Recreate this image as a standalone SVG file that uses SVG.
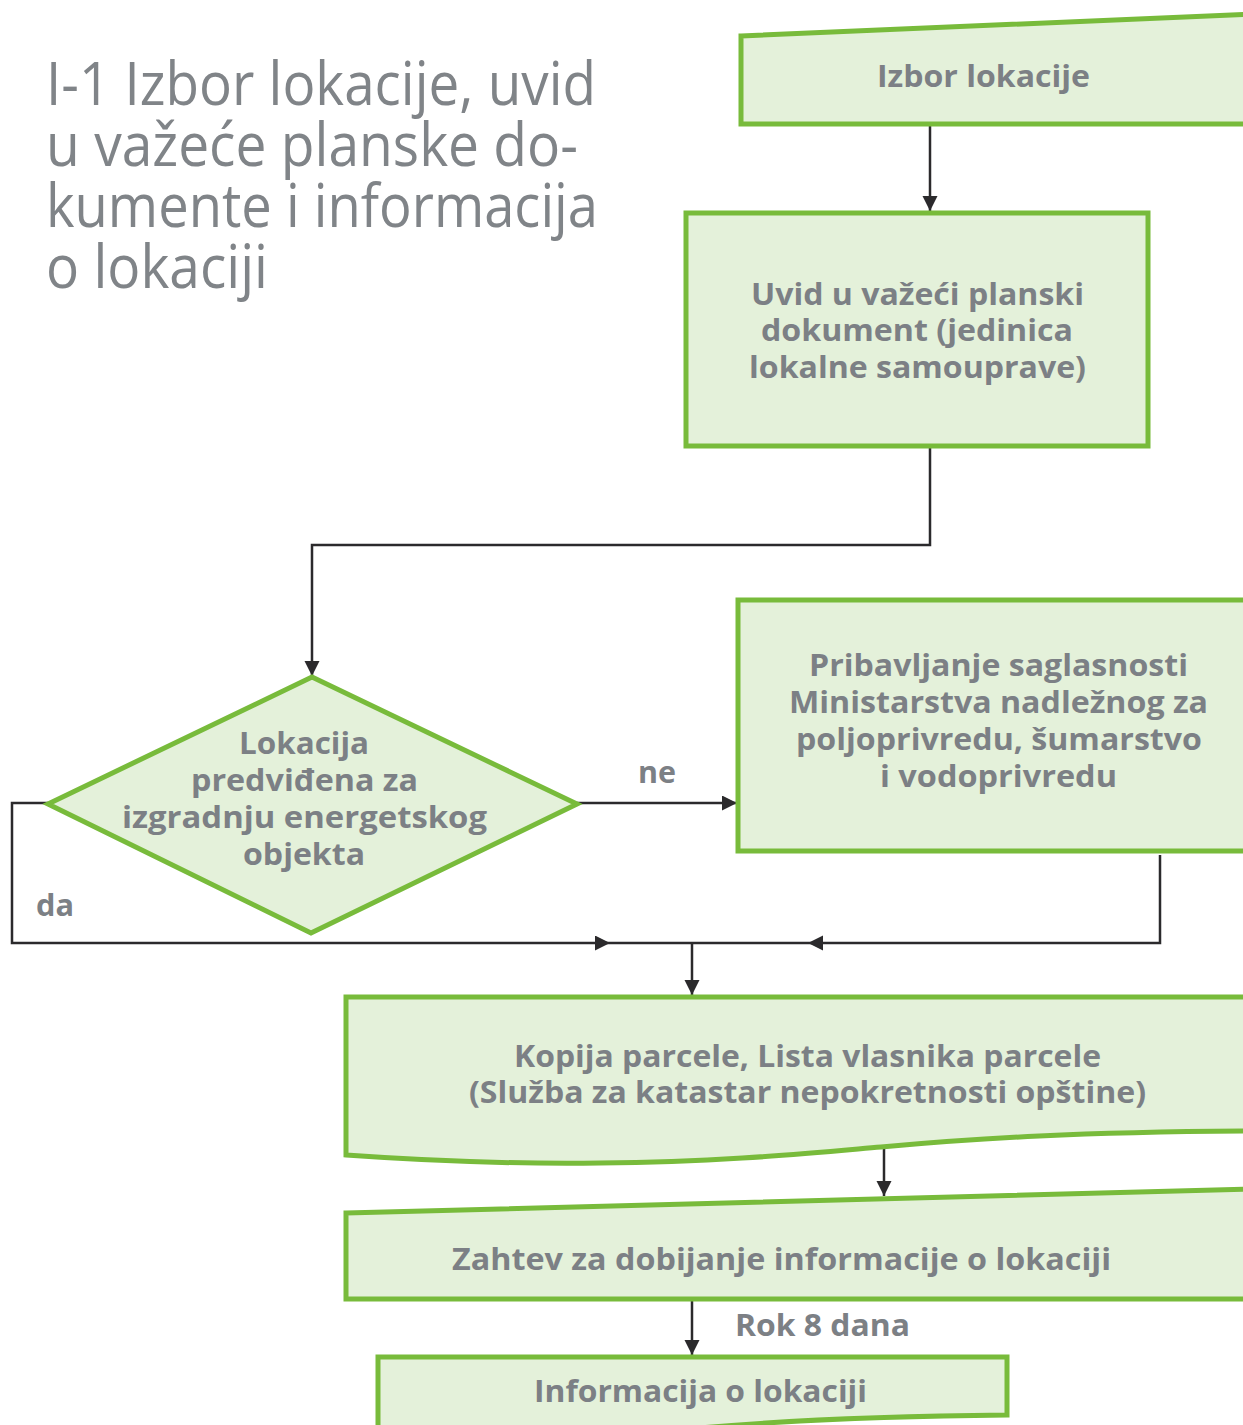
<svg xmlns="http://www.w3.org/2000/svg" width="1243" height="1425" viewBox="0 0 1243 1425">
  <style>
    .node { fill: #e4f1da; stroke: #78bb3b; stroke-width: 5; stroke-linejoin: miter; }
    .lbl { font-family: "Open Sans", "Noto Sans", sans-serif; font-weight: 700; font-size: 31px; fill: #7c8085; }
    .title { font-family: "Open Sans", "Noto Sans", sans-serif; font-weight: 400; font-size: 60px; fill: #808488; }
    .conn { fill: none; stroke: #2b2a2c; stroke-width: 2.5; }
  </style>
  <defs>
    <marker id="arrow" markerUnits="userSpaceOnUse" markerWidth="16" markerHeight="16" refX="15" refY="7.5" orient="auto">
      <path d="M0,0 L15,7.5 L0,15 Z" fill="#2b2a2c"/>
    </marker>
  </defs>

  <rect width="1243" height="1425" fill="#ffffff"/>

  <!-- heading -->
  <g id="title">
    <text class="title" x="46" y="105" textLength="550" lengthAdjust="spacingAndGlyphs">I-1 Izbor lokacije, uvid</text>
    <text class="title" x="46" y="166" textLength="532" lengthAdjust="spacingAndGlyphs">u važeće planske do-</text>
    <text class="title" x="46" y="227" textLength="552" lengthAdjust="spacingAndGlyphs">kumente i informacija</text>
    <text class="title" x="46" y="288" textLength="222" lengthAdjust="spacingAndGlyphs">o lokaciji</text>
  </g>

  <!-- connectors -->
  <g id="connectors">
    <path class="conn" d="M930,124 V211" marker-end="url(#arrow)"/>
    <path class="conn" d="M930,446 V545 H312 V676" marker-end="url(#arrow)"/>
    <path class="conn" d="M577,803 H737" marker-end="url(#arrow)"/>
    <path class="conn" d="M48,803 H12 V943 H610" marker-end="url(#arrow)"/>
    <path class="conn" d="M610,943 H808"/>
    <path class="conn" d="M1160,855 V943 H808" marker-end="url(#arrow)"/>
    <path class="conn" d="M692,943 V995" marker-end="url(#arrow)"/>
    <path class="conn" d="M884,1148 V1196" marker-end="url(#arrow)"/>
    <path class="conn" d="M692,1299 V1355" marker-end="url(#arrow)"/>
    <text class="lbl" x="638" y="783" textLength="38" lengthAdjust="spacingAndGlyphs">ne</text>
    <text class="lbl" x="36" y="916" textLength="38" lengthAdjust="spacingAndGlyphs">da</text>
    <text class="lbl" x="735" y="1336" textLength="175" lengthAdjust="spacingAndGlyphs">Rok 8 dana</text>
  </g>

  <!-- manual input: location choice -->
  <g id="izbor-lokacije">
    <path class="node" d="M741,36 L1252,14 L1252,124 L741,124 Z"/>
    <text class="lbl" x="877" y="87" textLength="213" lengthAdjust="spacingAndGlyphs">Izbor lokacije</text>
  </g>

  <!-- process: planning document review -->
  <g id="uvid">
    <rect class="node" x="686" y="213" width="462" height="233"/>
    <text class="lbl" x="751" y="305" textLength="333" lengthAdjust="spacingAndGlyphs">Uvid u važeći planski</text>
    <text class="lbl" x="761" y="341" textLength="312" lengthAdjust="spacingAndGlyphs">dokument (jedinica</text>
    <text class="lbl" x="749" y="378" textLength="337" lengthAdjust="spacingAndGlyphs">lokalne samouprave)</text>
  </g>

  <!-- decision -->
  <g id="odluka">
    <path class="node" d="M312,677 L577,804 L311,933 L48,804 Z"/>
    <text class="lbl" x="239" y="754" textLength="130" lengthAdjust="spacingAndGlyphs">Lokacija</text>
    <text class="lbl" x="191" y="791" textLength="227" lengthAdjust="spacingAndGlyphs">predviđena za</text>
    <text class="lbl" x="122" y="828" textLength="365" lengthAdjust="spacingAndGlyphs">izgradnju energetskog</text>
    <text class="lbl" x="243" y="865" textLength="122" lengthAdjust="spacingAndGlyphs">objekta</text>
  </g>

  <!-- process: ministry consent -->
  <g id="pribavljanje">
    <rect class="node" x="738" y="600" width="520" height="251"/>
    <text class="lbl" x="809" y="676" textLength="379" lengthAdjust="spacingAndGlyphs">Pribavljanje saglasnosti</text>
    <text class="lbl" x="789" y="713" textLength="419" lengthAdjust="spacingAndGlyphs">Ministarstva nadležnog za</text>
    <text class="lbl" x="796" y="750" textLength="406" lengthAdjust="spacingAndGlyphs">poljoprivredu, šumarstvo</text>
    <text class="lbl" x="880" y="787" textLength="237" lengthAdjust="spacingAndGlyphs">i vodoprivredu</text>
  </g>

  <!-- document: parcel copy -->
  <g id="kopija">
    <path class="node" d="M346,997 L1252,997 L1252,1131 C1080,1132 980,1138 881,1147 C800,1154 720,1162 600,1163 C520,1164 430,1161 346,1155 Z"/>
    <text class="lbl" x="514" y="1067" textLength="587" lengthAdjust="spacingAndGlyphs">Kopija parcele, Lista vlasnika parcele</text>
    <text class="lbl" x="469" y="1103" textLength="677" lengthAdjust="spacingAndGlyphs">(Služba za katastar nepokretnosti opštine)</text>
  </g>

  <!-- manual input: request -->
  <g id="zahtev">
    <path class="node" d="M346,1213 L1252,1189 L1252,1299 L346,1299 Z"/>
    <text class="lbl" x="452" y="1270" textLength="659" lengthAdjust="spacingAndGlyphs">Zahtev za dobijanje informacije o lokaciji</text>
  </g>

  <!-- document: location information -->
  <g id="informacija">
    <path class="node" d="M378,1357 L1007,1357 L1007,1415 C900,1416 790,1420 700,1428 L690,1440 L378,1440 Z"/>
    <text class="lbl" x="534" y="1402" textLength="333" lengthAdjust="spacingAndGlyphs">Informacija o lokaciji</text>
  </g>
</svg>
